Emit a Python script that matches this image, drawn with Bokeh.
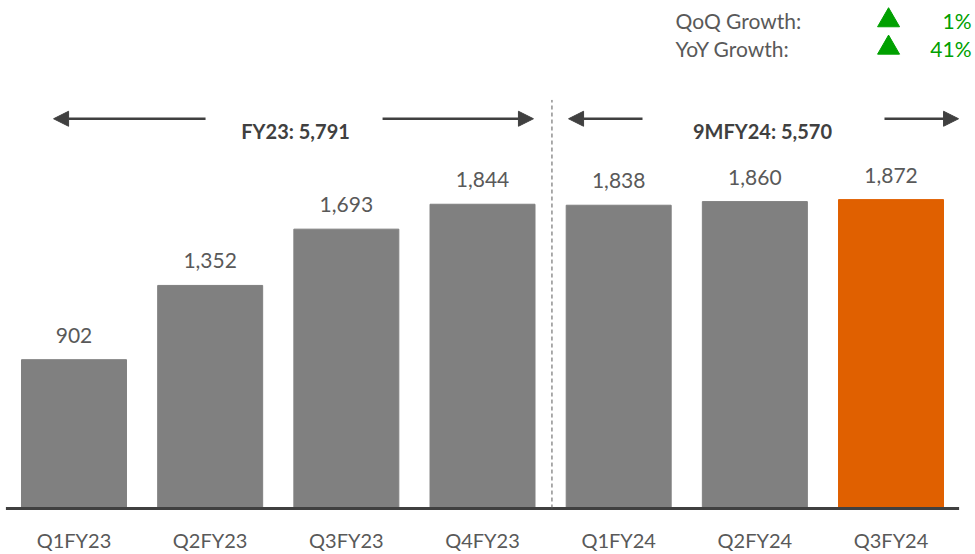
from bokeh.plotting import figure
from bokeh.models import (Range1d, ColumnDataSource, LabelSet, Label,
                          Arrow, NormalHead, FixedTicker)
from bokeh.core.properties import value
from bokeh.embed import file_html
from bokeh.resources import INLINE

# ---- data ----
quarters = ["Q1FY23", "Q2FY23", "Q3FY23", "Q4FY23", "Q1FY24", "Q2FY24", "Q3FY24"]
revenue = [902, 1352, 1693, 1844, 1838, 1860, 1872]
bar_colors = ["#808080"] * 6 + ["#E06000"]
value_labels = ["902", "1,352", "1,693", "1,844", "1,838", "1,860", "1,872"]
fy23_label = "FY23: 5,791"
fy24_label = "9MFY24: 5,570"
growth_names = ["QoQ Growth:", "YoY  Growth:"]
growth_values = ["1%", "41%"]

FONT = "Lato"
GRAY_TXT = "#595959"
DARK = "#404040"
GREEN = "#00A000"

positions = list(range(len(quarters)))
src = ColumnDataSource(dict(x=positions, v=revenue, c=bar_colors, t=value_labels))

p = figure(x_range=Range1d(-0.5398, 6.6204), y_range=Range1d(-18.07, 3078.7),
           width=975, height=554, output_backend="svg", toolbar_location=None,
           min_border_left=0, min_border_right=0, min_border_top=0, min_border_bottom=40)
p.outline_line_color = None
p.xgrid.grid_line_color = None
p.ygrid.grid_line_color = None
p.yaxis.visible = False

p.vbar(x="x", top="v", bottom=0, width=0.771, color="c", source=src)

# category axis
ax = p.xaxis[0]
ax.ticker = FixedTicker(ticks=positions)
ax.major_label_overrides = {i: q for i, q in zip(positions, quarters)}
ax.axis_line_color = None
ax.major_tick_line_color = None
ax.minor_tick_line_color = None
ax.major_tick_out = 0
ax.major_label_standoff = 16
ax.major_label_text_font = FONT
ax.major_label_text_font_size = "20px"
ax.major_label_text_color = GRAY_TXT

# baseline spanning the category bands
p.segment(x0=[positions[0] - 0.5], y0=[0], x1=[positions[-1] + 0.5], y1=[0],
          line_color=DARK, line_width=3)

labels = LabelSet(x="x", y="v", text="t", source=src, y_offset=17,
                  text_align="center", text_baseline="alphabetic",
                  text_font=value(FONT), text_font_size="21px", text_color=GRAY_TXT)
p.add_layout(labels)

# divider between fiscal years
p.segment(x0=[3.51], y0=[0], x1=[3.51], y1=[2476], line_color="#595959",
          line_width=1, line_dash="4 3")

# period arrows
arrow_y = 2362
for x_start, x_end in [(0.966, -0.150), (2.266, 3.374), (4.175, 3.632), (5.952, 6.496)]:
    p.add_layout(Arrow(end=NormalHead(size=15, fill_color=DARK, line_color=DARK),
                       x_start=x_start, y_start=arrow_y, x_end=x_end, y_end=arrow_y,
                       line_color=DARK, line_width=2.5))

for txt, xc in [(fy23_label, 1.627), (fy24_label, 5.056)]:
    p.add_layout(Label(x=xc, y=2289, text=txt, text_align="center",
                       text_baseline="alphabetic", text_font=FONT,
                       text_font_size="20px", text_font_style="bold", text_color=DARK))

# growth box (top right), positioned in screen pixels
for name, val, ys, yc in zip(growth_names, growth_values, [491, 463], [2958, 2792]):
    p.add_layout(Label(x=675, y=ys, x_units="screen", y_units="screen", text=name,
                       text_align="left", text_baseline="alphabetic", text_font=FONT,
                       text_font_size="21px", text_color=GRAY_TXT))
    p.add_layout(Label(x=971, y=ys, x_units="screen", y_units="screen", text=val,
                       text_align="right", text_baseline="alphabetic", text_font=FONT,
                       text_font_size="21px", text_color=GREEN))
    p.scatter(x=[5.982], y=[yc], marker="triangle", size=22,
              fill_color=GREEN, line_color=GREEN)

open("out.html", "w").write(file_html(p, INLINE))
